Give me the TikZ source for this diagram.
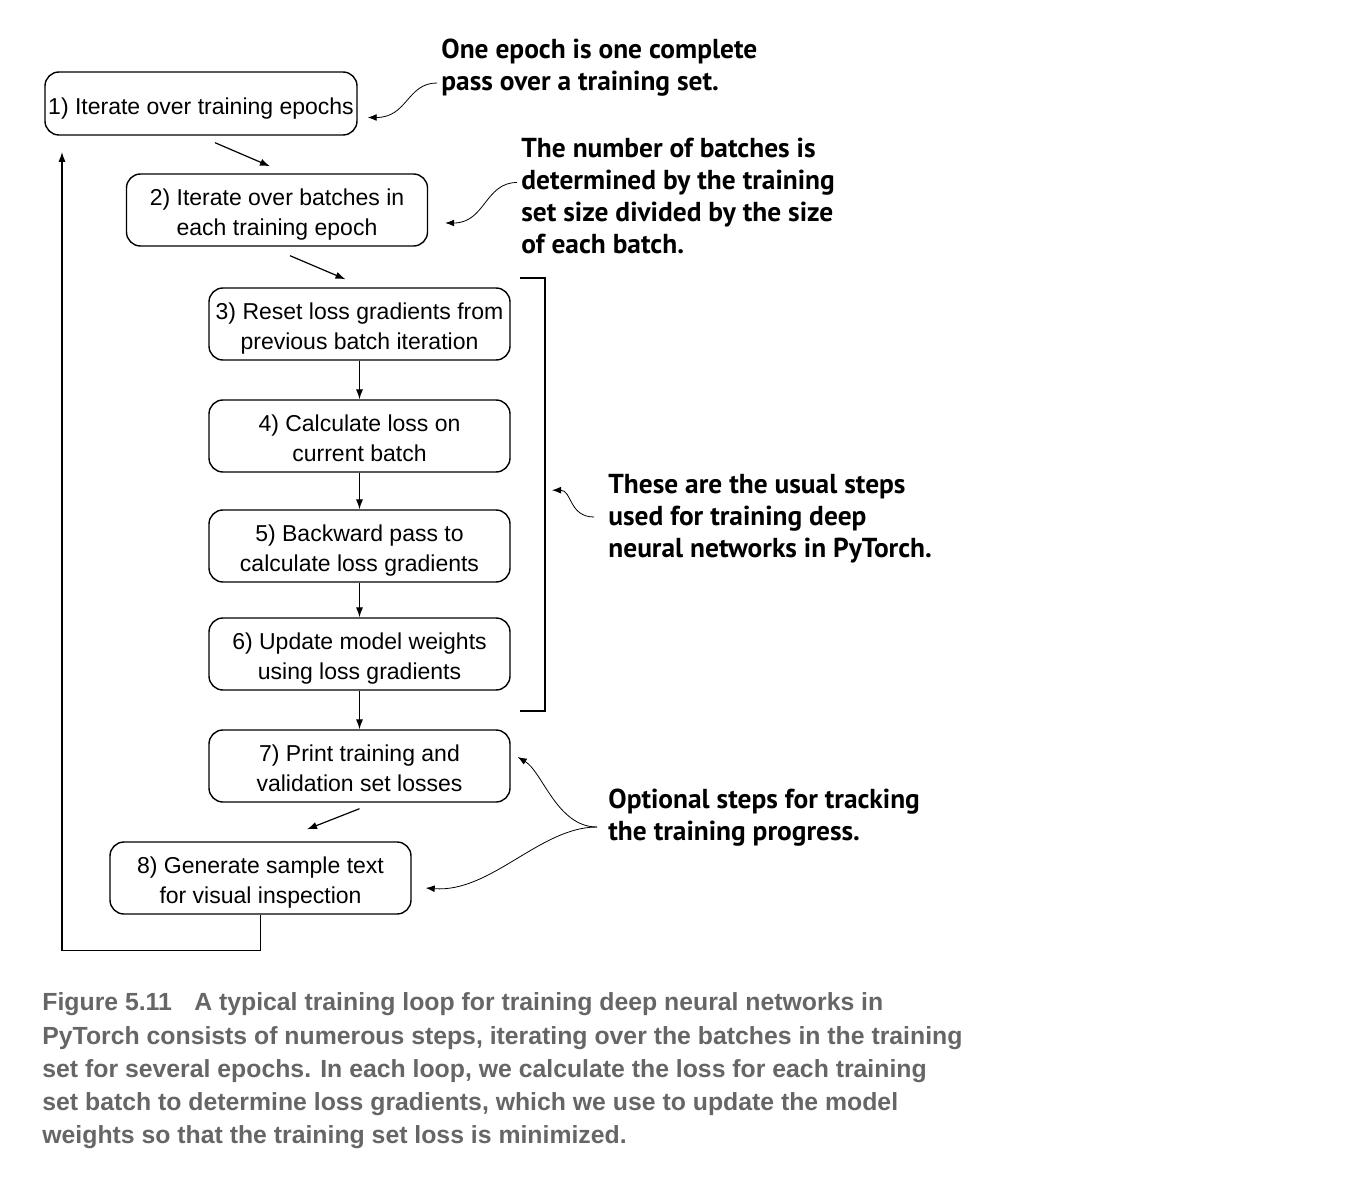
\documentclass[tikz,border=0pt]{standalone}
\usepackage{fontspec}
\setmainfont{Liberation Sans}
\newfontfamily\notefont{PT Sans}
\usetikzlibrary{arrows.meta,calc}
\definecolor{capgray}{HTML}{666666}
\newcommand\steptext[1]{\raisebox{-2.4pt}[\height][\depth]{\begin{tabular}{@{}c@{}}#1\end{tabular}}}

\begin{document}
\begin{tikzpicture}[x=0.5pt,y=-0.5pt,
    box/.style={draw,rounded corners=7pt,line width=0.7pt,minimum width=150.5pt,minimum height=36pt,inner sep=1.5pt,font=\fontsize{11.5}{15}\selectfont},
    note/.style={anchor=west,align=left,inner sep=0pt,font=\notefont\bfseries\fontsize{13.7}{16}\selectfont},
    arr/.style={-{Latex[length=5pt,width=3.6pt]},line width=0.6pt},
    curl/.style={-{Latex[length=4.5pt,width=3.4pt]},line width=0.4pt}]
        \useasboundingbox (0,0) rectangle (1350,1182);
        % the steps
        \node[box,minimum width=156pt,minimum height=31.5pt](s1)at(201,103.5){\steptext{1) Iterate over training epochs}};
        \node[box](s2)at(277,210){\steptext{2) Iterate over batches in\\each training epoch}};
        \node[box](s3)at(359.5,324){\steptext{3) Reset loss gradients from\\previous batch iteration}};
        \node[box](s4)at(359.5,436){\steptext{4) Calculate loss on\\current batch}};
        \node[box](s5)at(359.5,546){\steptext{5) Backward pass to\\calculate loss gradients}};
        \node[box](s6)at(359.5,654){\steptext{6) Update model weights\\using loss gradients}};
        \node[box](s7)at(359.5,766){\steptext{7) Print training and\\validation set losses}};
        \node[box](s8)at(260.5,878){\steptext{8) Generate sample text\\for visual inspection}};
        \draw[arr]($(s1.south)+(14,7)$)--($(s2.north)+(-7,-7)$);
        \draw[arr]($(s2.south)+(13,9)$)--($(s3.north)+(-14,-8)$);
        \foreach \a/\b in {s3/s4,s4/s5,s5/s6,s6/s7} \draw[arr](\a)--(\b);
        \draw[arr]($(s7.south)+(0,6)$)--($(s8.north)+(46.5,-12)$);
        \coordinate(loopend)at(62,152);
        \draw[arr](s8.south)--++(0,36)-|(loopend);
        % bracket
        \coordinate(bt)at(545,278);
        \coordinate(bb)at(545,711);
        \draw[line width=0.7pt]($(bt)+(-25,0)$)--(bt)--(bb)--++(-25,0);
        % notes
        \node[note](n1)at(441,68){One epoch is one complete\\pass over a training set.};
        \node[note](n2)at(521,195.5){The number of batches is\\determined by the training\\set size divided by the size\\of each batch.};
        \node[note](n3)at(608,519){These are the usual steps\\used for training deep\\neural networks in PyTorch.};
        \node[note](n4)at(608,818){Optional steps for tracking\\the training progress.};
        \draw[curl]($(n1.west)+(-4,15)$)..controls +(-30,0) and +(40,0)..($(s1.east)+(10,14)$);
        \draw[curl]($(n2.west)+(-4,-13)$)..controls +(-32,0) and +(40,0)..($(s2.east)+(17,13)$);
        \draw[curl]($(n3.west)+(-14,-2)$)..controls +(-25,0) and +(20,0)..($(bt)!0.49!(bb)+(7,0)$);
        \draw[curl]($(n4.west)+(-11,9)$)..controls +(-40,0) and +(25,15)..($(s7.east)+(7,-9)$);
        \draw[curl]($(n4.west)+(-11,9)$)..controls +(-57,0) and +(65,5)..($(s8.east)+(14,10)$);
        % caption
        \node[anchor=west,align=left,inner sep=0pt,text=capgray,font=\bfseries\fontsize{12.4}{16.6}\selectfont](cap)at(42,1071){Figure 5.11\hspace{0.9em}A typical training loop for training deep neural networks in\\PyTorch consists of numerous steps, iterating over the batches in the training\\set for several epochs. In each loop, we calculate the loss for each training\\set batch to determine loss gradients, which we use to update the model\\weights so that the training set loss is minimized.};
    \end{tikzpicture}
\end{document}
